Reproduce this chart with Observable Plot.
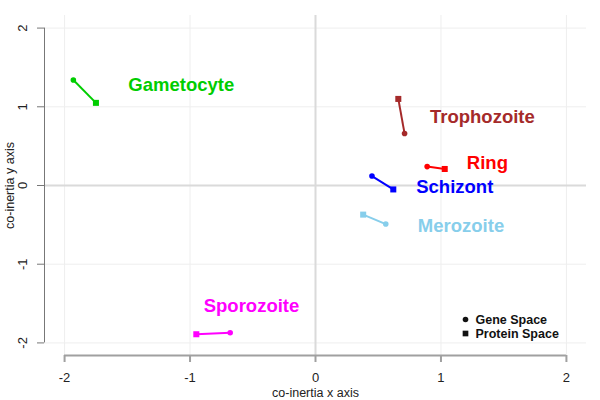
<!DOCTYPE html>
<html>
<head>
<meta charset="utf-8">
<script src="https://cdn.jsdelivr.net/npm/d3@7"></script>
<script src="https://cdn.jsdelivr.net/npm/@observablehq/plot@0.6"></script>
<style>
  html, body { margin: 0; padding: 0; background: #fff; }
  #chart { width: 600px; height: 400px; }
</style>
</head>
<body>
<div id="chart"></div>
<script>
// ---- data ----
const stages = ["Gametocyte", "Trophozoite", "Ring", "Schizont", "Merozoite", "Sporozoite"];
const stageColors = ["#00CD00", "#A52A2A", "#FF0000", "#0000FF", "#87CEEB", "#FF00FF"];
const geneX = [-1.93, 0.71, 0.89, 0.45, 0.56, -0.68];
const geneY = [1.34, 0.66, 0.24, 0.12, -0.49, -1.87];
const protX = [-1.75, 0.66, 1.03, 0.62, 0.38, -0.95];
const protY = [1.05, 1.10, 0.21, -0.05, -0.37, -1.89];
const labelX = [-1.07, 1.33, 1.37, 1.11, 1.16, -0.51];
const labelY = [1.28, 0.87, 0.28, -0.02, -0.52, -1.53];
const xTicks = [-2, -1, 0, 1, 2];
const yTicks = [-2, -1, 0, 1, 2];
const legendLabels = ["Gene Space", "Protein Space"];
const xTitle = "co-inertia x axis";
const yTitle = "co-inertia y axis";

// ---- build ----
const rows = stages.map((s, i) => ({
  stage: s, color: stageColors[i],
  gx: geneX[i], gy: geneY[i], px: protX[i], py: protY[i],
  lx: labelX[i], ly: labelY[i]
}));
const pad = 0.04 * (d3.max(xTicks) - d3.min(xTicks));
const xDomain = [d3.min(xTicks) - pad, d3.max(xTicks) + pad];
const yDomain = [d3.min(yTicks) - pad, d3.max(yTicks) + pad];

const font = "'Liberation Sans', Arial, sans-serif";

const chart = Plot.plot({
  width: 600,
  height: 400,
  marginLeft: 44,
  marginRight: 14,
  marginTop: 15,
  marginBottom: 45,
  style: { fontFamily: font, background: "#fff", color: "#222" },
  x: { domain: xDomain, axis: null },
  y: { domain: yDomain, axis: null },
  marks: [
    // faint grid
    Plot.ruleX(xTicks, { stroke: "#eeeeee", strokeWidth: 1 }),
    Plot.ruleY(yTicks, { stroke: "#eeeeee", strokeWidth: 1 }),
    // zero lines
    Plot.ruleX([0], { stroke: "#dadada", strokeWidth: 2 }),
    Plot.ruleY([0], { stroke: "#dadada", strokeWidth: 2 }),
    // x axis (R style, detached range -2..2)
    Plot.ruleY([yDomain[0]], { x1: d3.min(xTicks), x2: d3.max(xTicks), stroke: "#a0a0a0", strokeWidth: 2 }),
    Plot.axisX({ ticks: xTicks, tickSize: 7, tickPadding: 10, stroke: "#a0a0a0", strokeWidth: 2, fill: "#222", fontSize: 13, tickFormat: d => String(d), label: null }),
    Plot.text([xTitle], { frameAnchor: "bottom", dy: 37, fontSize: 12.5, fill: "#222", lineAnchor: "middle" }),
    // y axis
    Plot.ruleX([xDomain[0]], { y1: d3.min(yTicks), y2: d3.max(yTicks), stroke: "#777", strokeWidth: 1 }),
    Plot.axisY({ ticks: yTicks, tickSize: 7, stroke: "#777", tickFormat: () => "", label: null }),
    Plot.text(yTicks, { y: d => d, frameAnchor: "left", dx: -22, rotate: -90, text: d => String(d), fontSize: 13, fill: "#222", lineAnchor: "middle", textAnchor: "middle" }),
    Plot.text([yTitle], { frameAnchor: "left", dx: -35, rotate: -90, fontSize: 12.5, fill: "#222", lineAnchor: "middle", textAnchor: "middle" }),
    // connecting segments
    Plot.link(rows, { x1: "gx", y1: "gy", x2: "px", y2: "py", stroke: "color", strokeWidth: 2 }),
    // gene points (circles)
    Plot.dot(rows, { x: "gx", y: "gy", r: 2.8, fill: "color", stroke: "none" }),
    // protein points (squares)
    Plot.dot(rows, { x: "px", y: "py", r: 3.4, symbol: "square", fill: "color", stroke: "none" }),
    // stage labels
    Plot.text(rows, { x: "lx", y: "ly", text: "stage", fill: "color", fontSize: 18.5, fontWeight: "bold", lineAnchor: "middle", textAnchor: "middle" }),
    // legend
    Plot.dot([legendLabels[0]], { frameAnchor: "bottom-right", dx: -121, dy: -36, r: 2.8, fill: "#111" }),
    Plot.dot([legendLabels[1]], { frameAnchor: "bottom-right", dx: -121, dy: -22, r: 3.2, symbol: "square", fill: "#111" }),
    Plot.text([legendLabels[0]], { frameAnchor: "bottom-right", dx: -111, dy: -36, textAnchor: "start", lineAnchor: "middle", fontSize: 12.5, fontWeight: "bold", fill: "#111" }),
    Plot.text([legendLabels[1]], { frameAnchor: "bottom-right", dx: -111, dy: -22, textAnchor: "start", lineAnchor: "middle", fontSize: 12.5, fontWeight: "bold", fill: "#111" })
  ]
});
document.getElementById("chart").appendChild(chart);
</script>
</body>
</html>
